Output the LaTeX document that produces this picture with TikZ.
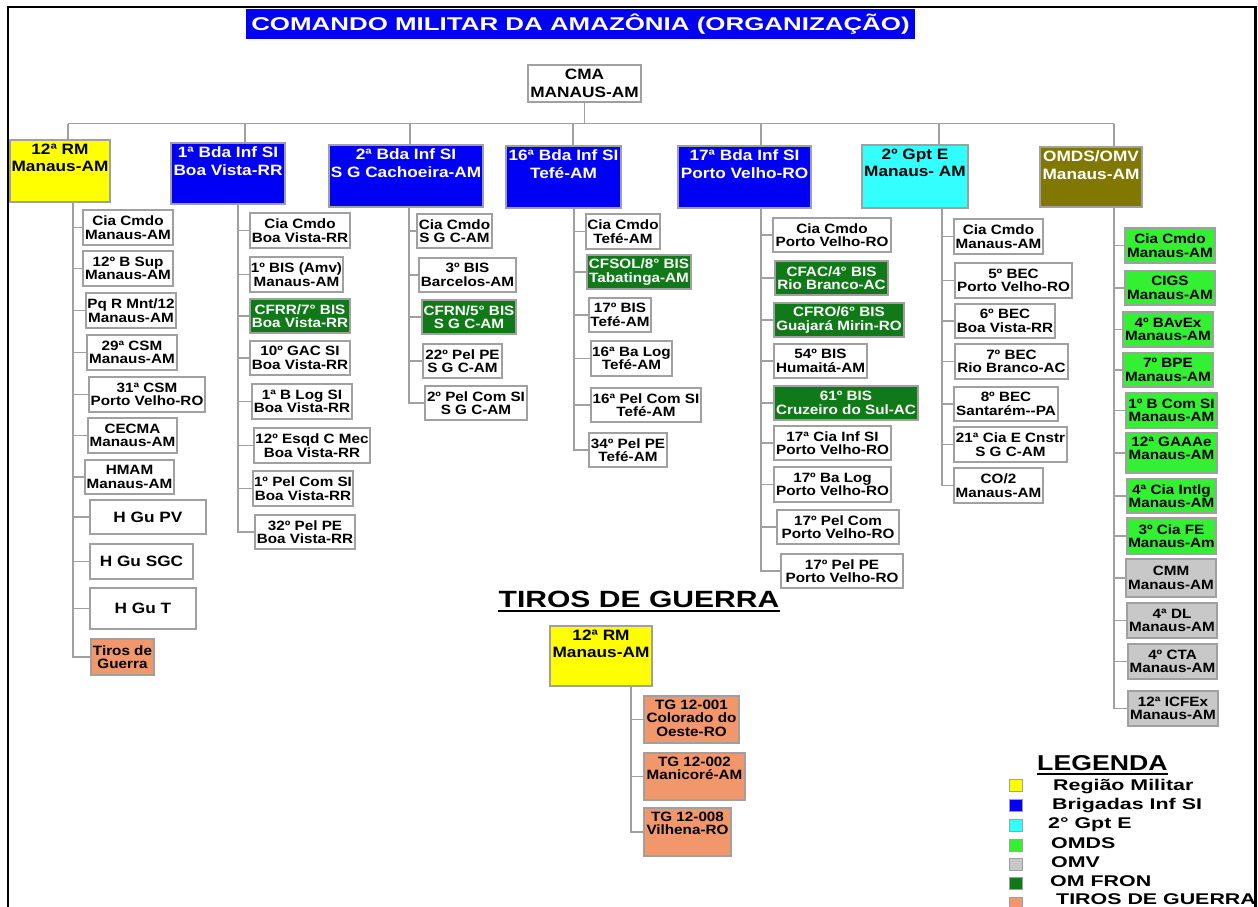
\documentclass[tikz,border=0pt]{standalone}
\usepackage{fontspec}
\setmainfont{Liberation Sans}
\newfontfamily\chfont{Liberation Sans}[FakeStretch=1.13]
\newfontfamily\hdfont{Liberation Sans}[FakeStretch=1.15]
\newfontfamily\ttlfont{Liberation Sans}[FakeStretch=1.4]
\newfontfamily\tgfont{Liberation Sans}[FakeStretch=1.28]
\newfontfamily\lgdfont{Liberation Sans}[FakeStretch=1.24]
\newfontfamily\lgifont{Liberation Sans}[FakeStretch=1.38]
\definecolor{cblue}{RGB}{0,0,245}
\definecolor{cyel}{RGB}{255,255,0}
\definecolor{ccyan}{RGB}{51,255,255}
\definecolor{colive}{RGB}{128,120,0}
\definecolor{cgreen}{RGB}{51,240,51}
\definecolor{cdkgreen}{RGB}{16,122,24}
\definecolor{cgray}{RGB}{200,200,200}
\definecolor{corange}{RGB}{242,150,108}
\definecolor{cline}{RGB}{160,160,160}
\tikzset{
  box/.style={draw=cline, line width=1.5pt, inner sep=1pt, align=center,
    font=\chfont\bfseries\fontsize{13.5}{13.5}\selectfont},
  hd/.style={font=\hdfont\bfseries\fontsize{15}{17.5}\selectfont},
  st-white/.style={fill=white, text=black},
  st-blue/.style={fill=cblue, text=white},
  st-yel/.style={fill=cyel, text=black},
  st-cyan/.style={fill=ccyan, text=black},
  st-olive/.style={fill=colive, text=white},
  st-green/.style={fill=cgreen, text=black},
  st-dkgreen/.style={fill=cdkgreen, text=white},
  st-gray/.style={fill=cgray, text=black},
  st-orange/.style={fill=corange, text=black},
  conn/.style={draw=cline, line width=1.5pt},
  swatch/.style={draw=cline, line width=1pt, minimum width=13pt, minimum height=12pt, inner sep=0pt},
  lgi/.style={anchor=base west, inner sep=0pt, font=\lgifont\bfseries\fontsize{15.5}{17}\selectfont},
}
\newcommand\bx[7]{\node[box,#2,minimum width={#5-#3},minimum height={#6-#4}] (#1) at ({(#3+#5)/2},{(#4+#6)/2}) {#7};}
\newcommand\bxt[7]{\node[box,#2,minimum width={#5-#3},minimum height={#6-#4},
  label={[box,#2,draw=none,fill=none,anchor=north,yshift=-3pt]north:{#7}}] (#1) at ({(#3+#5)/2},{(#4+#6)/2}) {};}
\begin{document}
\begin{tikzpicture}[x=1pt,y=-1pt]
\useasboundingbox (0,0) rectangle (1258,907);
% frame
\draw[line width=2.5pt] (8,910) -- (8,7) -- (1255.5,7) -- (1255.5,910);
% title
\node[fill=cblue, text=white, minimum width=669, minimum height=30, inner sep=0pt,
  font=\ttlfont\bfseries\fontsize{18.5}{20}\selectfont] (title) at (580.5,24) {COMANDO MILITAR DA AMAZÔNIA (ORGANIZAÇÃO)};
% top
\bx{cma}{st-white,hd}{528}{65}{641}{102}{CMA\\MANAUS-AM}
\bxt{rm}{st-yel,hd}{10}{140}{110}{202}{12ª RM\\Manaus-AM}
\bxt{b1}{st-blue,hd}{171}{143}{285}{204}{1ª Bda Inf SI\\Boa Vista-RR}
\bxt{b2}{st-blue,hd}{329}{145}{483}{207}{2ª Bda Inf SI\\S G Cachoeira-AM}
\bxt{b16}{st-blue,hd}{506}{146}{621}{208}{16ª Bda Inf SI\\Tefé-AM}
\bxt{b17}{st-blue,hd}{678}{146}{811}{208}{17ª Bda Inf SI\\Porto Velho-RO}
\bxt{gpt}{st-cyan,hd}{862}{145}{968}{208}{2º Gpt E\\Manaus- AM}
\bxt{omds}{st-olive,hd}{1040}{147}{1142}{207}{OMDS/OMV\\Manaus-AM}
\coordinate (d1) at (68,123.5);
\coordinate (d2) at (245,123.5);
\coordinate (d3) at (410,123.5);
\coordinate (d4) at (573,123.5);
\coordinate (d5) at (761,123.5);
\coordinate (d6) at (939,123.5);
\coordinate (d7) at (1114,123.5);
\draw[conn] (cma.south) -- (cma.south |- d1);
\draw[conn] (d1) -- (d7);
\draw[conn] (d1) -- (d1 |- rm.north);
\draw[conn] (d2) -- (d2 |- b1.north);
\draw[conn] (d3) -- (d3 |- b2.north);
\draw[conn] (d4) -- (d4 |- b16.north);
\draw[conn] (d5) -- (d5 |- b17.north);
\draw[conn] (d6) -- (d6 |- gpt.north);
\draw[conn] (d7) -- (d7 |- omds.north);
% column 1
\bx{c1a}{st-white}{83}{210}{173}{245}{Cia Cmdo\\Manaus-AM}
\bx{c1b}{st-white}{83}{251}{173}{286}{12º B Sup\\Manaus-AM}
\bx{c1c}{st-white}{86}{293}{176}{328}{Pq R Mnt/12\\Manaus-AM}
\bx{c1d}{st-white}{87}{335}{177}{370}{29ª CSM\\Manaus-AM}
\bx{c1e}{st-white}{89}{377}{205}{412}{31ª CSM\\Porto Velho-RO}
\bx{c1f}{st-white}{88}{418}{177}{453}{CECMA\\Manaus-AM}
\bx{c1g}{st-white}{85}{460}{174}{494}{HMAM\\Manaus-AM}
\bx{c1h}{st-white,hd}{90}{500}{206}{534}{H Gu PV}
\bx{c1i}{st-white,hd}{90}{544}{193}{579}{H Gu SGC}
\bx{c1j}{st-white,hd}{90}{588}{196}{629}{H Gu T}
\bx{c1k}{st-orange}{91}{639}{154}{675}{Tiros de\\Guerra}
\coordinate (s1) at (73,202);
\foreach \c in {c1a,c1b,c1c,c1d,c1e,c1f,c1g,c1h,c1i,c1j} \draw[conn] (s1 |- \c.west) -- (\c.west);
\draw[conn] (s1) |- (c1k.west);
% column 2
\bx{c2a}{st-white}{250}{213}{350}{248}{Cia Cmdo\\Boa Vista-RR}
\bx{c2b}{st-white}{250}{257}{343}{292}{1º BIS (Amv)\\Manaus-AM}
\bx{c2c}{st-dkgreen}{250}{299}{350}{333}{CFRR/7° BIS\\Boa Vista-RR}
\bx{c2d}{st-white}{250}{341}{350}{375}{10º GAC SI\\Boa Vista-RR}
\bx{c2e}{st-white}{252}{384}{352}{419}{1ª B Log SI\\Boa Vista-RR}
\bx{c2f}{st-white}{254}{428}{370}{463}{12º Esqd C Mec\\Boa Vista-RR}
\bx{c2g}{st-white}{253}{471}{353}{506}{1º Pel Com SI\\Boa Vista-RR}
\bx{c2h}{st-white}{255}{515}{355}{549}{32º Pel PE\\Boa Vista-RR}
\coordinate (s2) at (238,204);
\foreach \c in {c2a,c2b,c2c,c2d,c2e,c2f,c2g} \draw[conn] (s2 |- \c.west) -- (\c.west);
\draw[conn] (s2) |- (c2h.west);
% column 3
\bx{c3a}{st-white}{417}{214}{492}{248}{Cia Cmdo\\S G C-AM}
\bx{c3b}{st-white}{419}{258}{516}{292}{3º BIS\\Barcelos-AM}
\bx{c3c}{st-dkgreen}{422}{300}{516}{334}{CFRN/5° BIS\\S G C-AM}
\bx{c3d}{st-white}{423}{344}{502}{378}{22º Pel PE\\S G C-AM}
\bx{c3e}{st-white}{425}{386}{527}{420}{2º Pel Com SI\\S G C-AM}
\coordinate (s3) at (409,207);
\foreach \c in {c3a,c3b,c3c,c3d} \draw[conn] (s3 |- \c.west) -- (\c.west);
\draw[conn] (s3) |- (c3e.west);
% column 4
\bx{c4a}{st-white}{586}{214}{660}{249}{Cia Cmdo\\Tefé-AM}
\bx{c4b}{st-dkgreen}{587}{255}{691}{289}{CFSOL/8° BIS\\Tabatinga-AM}
\bx{c4c}{st-white}{589}{298}{651}{332}{17º BIS\\Tefé-AM}
\bx{c4d}{st-white}{591}{341}{672}{376}{16ª Ba Log\\Tefé-AM}
\bx{c4e}{st-white}{591}{388}{701}{422}{16ª Pel Com SI\\Tefé-AM}
\bx{c4f}{st-white}{589}{433}{667}{467}{34º Pel PE\\Tefé-AM}
\coordinate (s4) at (574,208);
\foreach \c in {c4a,c4b,c4c,c4d,c4e} \draw[conn] (s4 |- \c.west) -- (\c.west);
\draw[conn] (s4) |- (c4f.west);
% column 5
\bx{c5a}{st-white}{773}{218}{891}{252}{Cia Cmdo\\Porto Velho-RO}
\bx{c5b}{st-dkgreen}{775}{261}{888}{295}{CFAC/4° BIS\\Rio Branco-AC}
\bx{c5c}{st-dkgreen}{774}{303}{904}{337}{CFRO/6° BIS\\Guajará Mirin-RO}
\bx{c5d}{st-white}{774}{344}{867}{378}{54º BIS\\Humaitá-AM}
\bx{c5e}{st-dkgreen}{774}{386}{918}{420}{61º BIS\\Cruzeiro do Sul-AC}
\bx{c5f}{st-white}{774}{426}{891}{460}{17ª Cia Inf SI\\Porto Velho-RO}
\bx{c5g}{st-white}{774}{467}{891}{502}{17º Ba Log\\Porto Velho-RO}
\bx{c5h}{st-white}{777}{510}{899}{544}{17º Pel Com\\Porto Velho-RO}
\bx{c5i}{st-white}{781}{554}{903}{588}{17º Pel PE\\Porto Velho-RO}
\coordinate (s5) at (761,208);
\foreach \c in {c5a,c5b,c5c,c5d,c5e,c5f,c5g,c5h} \draw[conn] (s5 |- \c.west) -- (\c.west);
\draw[conn] (s5) |- (c5i.west);
% column 6
\bx{c6a}{st-white}{954}{219}{1043}{254}{Cia Cmdo\\Manaus-AM}
\bx{c6b}{st-white}{955}{263}{1072}{298}{5º BEC\\Porto Velho-RO}
\bx{c6c}{st-white}{955}{304}{1055}{338}{6º BEC\\Boa Vista-RR}
\bx{c6d}{st-white}{955}{344}{1068}{379}{7º BEC\\Rio Branco-AC}
\bx{c6e}{st-white}{954}{387}{1058}{421}{8º BEC\\Santarém--PA}
\bx{c6f}{st-white}{954}{427}{1067}{462}{21ª Cia E Cnstr\\S G C-AM}
\bx{c6g}{st-white}{954}{468}{1043}{503}{CO/2\\Manaus-AM}
\coordinate (s6) at (942,208);
\foreach \c in {c6a,c6b,c6c,c6d,c6e,c6f} \draw[conn] (s6 |- \c.west) -- (\c.west);
\draw[conn] (s6) |- (c6g.west);
% column 7
\bx{c7a}{st-green}{1125}{228}{1215}{263}{Cia Cmdo\\Manaus-AM}
\bx{c7b}{st-green}{1125}{271}{1215}{305}{CIGS\\Manaus-AM}
\bx{c7c}{st-green}{1123}{312}{1213}{347}{4º BAvEx\\Manaus-AM}
\bx{c7d}{st-green}{1123}{353}{1213}{387}{7º BPE\\Manaus-AM}
\bx{c7e}{st-green}{1126}{393}{1217}{428}{1º B Com SI\\Manaus-AM}
\bxt{c7f}{st-green}{1126}{433}{1217}{473}{12ª GAAAe\\Manaus-AM}
\bx{c7g}{st-green}{1127}{479}{1216}{513}{4ª Cia Intlg\\Manaus-AM}
\bx{c7h}{st-green}{1127}{518}{1216}{554}{3º Cia FE\\Manaus-Am}
\bx{c7i}{st-gray}{1126}{559}{1216}{597}{CMM\\Manaus-AM}
\bx{c7j}{st-gray}{1127}{603}{1217}{638}{4ª DL\\Manaus-AM}
\bx{c7k}{st-gray}{1128}{644}{1217}{679}{4º CTA\\Manaus-AM}
\bx{c7l}{st-gray}{1128}{691}{1218}{726}{12ª ICFEx\\Manaus-AM}
\coordinate (s7) at (1114,207);
\foreach \c in {c7a,c7b,c7c,c7d,c7e,c7f,c7g,c7h,c7i,c7j,c7k} \draw[conn] (s7 |- \c.west) -- (\c.west);
\draw[conn] (s7) |- (c7l.west);
% tiros de guerra
\node[anchor=base, inner sep=0pt, font=\tgfont\bfseries\fontsize{23.5}{25}\selectfont] (tgtitle) at (639,607) {TIROS DE GUERRA};
\draw[line width=2pt] ([yshift=-4pt]tgtitle.base west) -- ([yshift=-4pt]tgtitle.base east);
\bxt{tgrm}{st-yel,hd}{550}{626}{652}{686}{12ª RM\\Manaus-AM}
\bxt{tg1}{st-orange}{644}{696}{739}{743}{TG 12-001\\Colorado do\\Oeste-RO}
\bxt{tg2}{st-orange}{644}{753}{745}{800}{TG 12-002\\Manicoré-AM}
\bxt{tg3}{st-orange}{644}{808}{731}{856}{TG 12-008\\Vilhena-RO}
\coordinate (s8) at (631,686);
\foreach \c in {tg1,tg2} \draw[conn] (s8 |- \c.west) -- (\c.west);
\draw[conn] (s8) |- (tg3.west);
% legend
\node[anchor=base west, inner sep=0pt, font=\lgdfont\bfseries\fontsize{21.5}{23}\selectfont] (lgd) at (1037,770) {LEGENDA};
\draw[line width=2pt] ([yshift=-3.5pt]lgd.base west) -- ([yshift=-3.5pt]lgd.base east);
\node[swatch, fill=cyel] (sw1) at (1015.5,785.5) {};
\node[swatch, fill=cblue] (sw2) at (1015.5,805) {};
\node[swatch, fill=ccyan] (sw3) at (1015.5,825) {};
\node[swatch, fill=cgreen] (sw4) at (1015.5,845.5) {};
\node[swatch, fill=cgray] (sw5) at (1015.5,864.5) {};
\node[swatch, fill=cdkgreen] (sw6) at (1015.5,883.5) {};
\node[swatch, fill=corange] (sw7) at (1015.5,903) {};
\node[lgi] (lt1) at (1053,790) {Região Militar};
\node[lgi] (lt2) at (1052,809) {Brigadas Inf SI};
\node[lgi] (lt3) at (1048,828) {2° Gpt E};
\node[lgi] (lt4) at (1051,848) {OMDS};
\node[lgi] (lt5) at (1051,867) {OMV};
\node[lgi] (lt6) at (1050,886) {OM FRON};
\node[lgi] (lt7) at (1056,904) {TIROS DE GUERRA};
\end{tikzpicture}
\end{document}
